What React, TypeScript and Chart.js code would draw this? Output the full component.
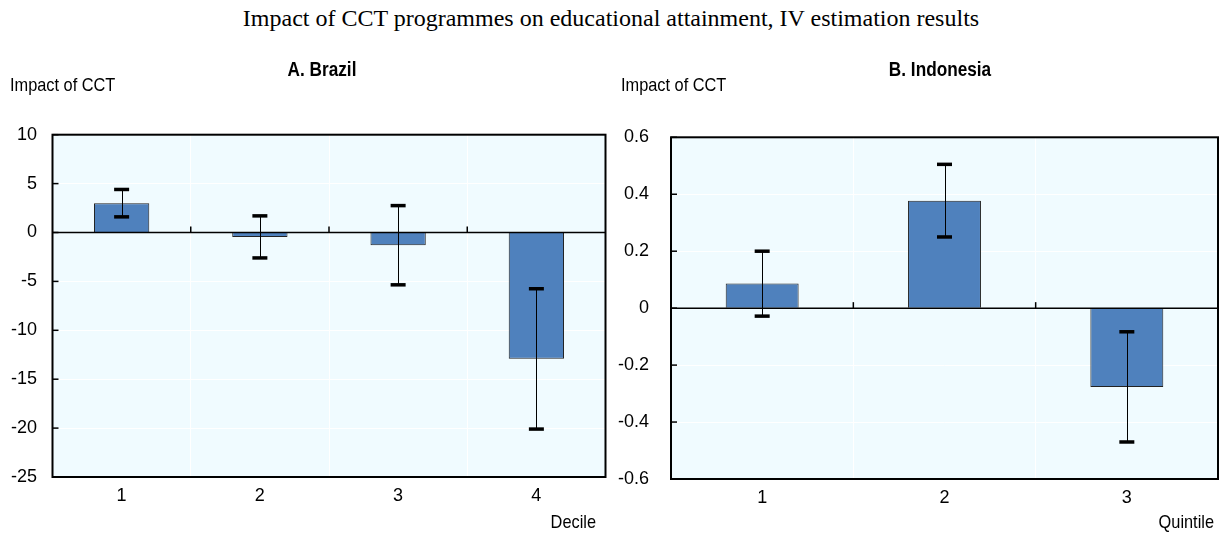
import React, { useEffect, useRef } from "react";
import { Chart, registerables } from "chart.js";

Chart.register(...registerables);

const pageTitle = "Impact of CCT programmes on educational attainment, IV estimation results";
const yLabel = "Impact of CCT";

const brazilTitle = "A. Brazil";
const brazilAxisLabel = "Decile";
const brazilCategories = ["1", "2", "3", "4"];
const brazilImpact = [3.0, -0.45, -1.3, -12.9];
const brazilLow = [1.6, -2.6, -5.35, -20.1];
const brazilHigh = [4.4, 1.7, 2.75, -5.75];

const indonesiaTitle = "B. Indonesia";
const indonesiaAxisLabel = "Quintile";
const indonesiaCategories = ["1", "2", "3"];
const indonesiaImpact = [0.087, 0.377, -0.277];
const indonesiaLow = [-0.028, 0.25, -0.47];
const indonesiaHigh = [0.2, 0.505, -0.083];

const FONT = "'Liberation Sans', Arial, sans-serif";
const BAR = "#4F81BD";
const PLOT_BG = "#F0FBFF";
const SQUEEZE = 0.86;

type Panel = {
  title: string;
  axisLabel: string;
  categories: string[];
  values: number[];
  low: number[];
  high: number[];
  min: number;
  max: number;
  step: number;
  yWidth: number;
  padTop: number;
  padRight: number;
  xHeight: number;
  titleX: number;
  yLabelX: number;
  axisLabelRight: number;
  decimals: number;
};

function squeezedText(ctx: any, text: string, x: number, y: number, align: string) {
  ctx.save();
  ctx.translate(x, y);
  ctx.scale(SQUEEZE, 1);
  ctx.textAlign = align;
  ctx.fillText(text, 0, 0);
  ctx.restore();
}

function makePlugin(p: Panel) {
  return {
    id: "panelDecor",
    beforeDraw(chart: any) {
      const { ctx, chartArea: a } = chart;
      ctx.save();
      ctx.fillStyle = PLOT_BG;
      ctx.fillRect(a.left, a.top, a.right - a.left, a.bottom - a.top);
      ctx.restore();
    },
    afterDatasetsDraw(chart: any) {
      const { ctx, chartArea: a } = chart;
      const xs = chart.scales.x;
      const ys = chart.scales.y;
      const y0 = ys.getPixelForValue(0);
      ctx.save();
      ctx.strokeStyle = "#000";
      ctx.lineWidth = 1.5;
      ctx.beginPath();
      ctx.moveTo(a.left, y0);
      ctx.lineTo(a.right, y0);
      ctx.stroke();
      for (let i = 1; i < p.categories.length; i++) {
        const bx = (xs.getPixelForValue(i - 1) + xs.getPixelForValue(i)) / 2;
        ctx.beginPath();
        ctx.moveTo(bx, y0);
        ctx.lineTo(bx, y0 - 6);
        ctx.stroke();
      }
      for (const t of ys.ticks) {
        const ty = ys.getPixelForValue(t.value);
        ctx.beginPath();
        ctx.moveTo(a.left, ty);
        ctx.lineTo(a.left + 6, ty);
        ctx.stroke();
      }
      for (let i = 0; i < p.values.length; i++) {
        const cx = xs.getPixelForValue(i);
        const yl = ys.getPixelForValue(p.low[i]);
        const yh = ys.getPixelForValue(p.high[i]);
        ctx.lineWidth = 1;
        ctx.beginPath();
        ctx.moveTo(Math.round(cx) + 0.5, yl);
        ctx.lineTo(Math.round(cx) + 0.5, yh);
        ctx.stroke();
        ctx.lineWidth = 3.5;
        for (const yy of [yl, yh]) {
          ctx.beginPath();
          ctx.moveTo(cx - 7.5, yy);
          ctx.lineTo(cx + 7.5, yy);
          ctx.stroke();
        }
      }
      ctx.lineWidth = 2;
      ctx.strokeRect(a.left, a.top, a.right - a.left, a.bottom - a.top);
      ctx.restore();
    },
    afterDraw(chart: any) {
      const { ctx } = chart;
      ctx.save();
      ctx.fillStyle = "#000";
      ctx.textBaseline = "middle";
      ctx.font = `bold 20px ${FONT}`;
      squeezedText(ctx, p.title, p.titleX, 70, "center");
      ctx.font = `19px ${FONT}`;
      squeezedText(ctx, yLabel, p.yLabelX, 86, "left");
      squeezedText(ctx, p.axisLabel, p.axisLabelRight, 523, "right");
      ctx.restore();
    },
  };
}

function PanelChart({ p, left, width }: { p: Panel; left: number; width: number }) {
  const ref = useRef<HTMLCanvasElement | null>(null);
  useEffect(() => {
    if (!ref.current) return;
    const chart = new Chart(ref.current, {
      type: "bar",
      data: {
        labels: p.categories,
        datasets: [
          {
            data: p.values,
            backgroundColor: BAR,
            borderColor: "#222",
            borderWidth: 1,
            barPercentage: 0.4,
            categoryPercentage: 1,
          },
        ],
      },
      options: {
        animation: false,
        responsive: true,
        maintainAspectRatio: false,
        layout: { padding: { top: p.padTop, right: p.padRight, left: 0, bottom: 0 } },
        plugins: { legend: { display: false }, title: { display: false }, tooltip: { enabled: false } },
        scales: {
          x: {
            grid: { color: "#FFFFFF", lineWidth: 1, offset: true, drawTicks: false },
            border: { display: false },
            ticks: { color: "#000", font: { family: FONT, size: 18 }, padding: 8 },
            afterFit: (s: any) => {
              s.height = p.xHeight;
            },
          },
          y: {
            min: p.min,
            max: p.max,
            grid: { color: "#FFFFFF", lineWidth: 1, drawTicks: false },
            border: { display: false },
            ticks: {
              stepSize: p.step,
              color: "#000",
              font: { family: FONT, size: 18 },
              padding: p.yWidth - 37,
              callback: (v: any) => {
                const n = Number(v);
                const r = Math.round(n * 10 ** p.decimals) / 10 ** p.decimals;
                return r === 0 ? "0" : String(r);
              },
            },
            afterFit: (s: any) => {
              s.width = p.yWidth;
            },
          },
        },
      },
      plugins: [makePlugin(p)],
    } as any);
    return () => chart.destroy();
  }, []);
  return (
    <div style={{ position: "absolute", left, top: 0, width, height: 534 }}>
      <canvas ref={ref} />
    </div>
  );
}

const brazil: Panel = {
  title: brazilTitle,
  axisLabel: brazilAxisLabel,
  categories: brazilCategories,
  values: brazilImpact,
  low: brazilLow,
  high: brazilHigh,
  min: -25,
  max: 10,
  step: 5,
  yWidth: 52.5,
  padTop: 134.7,
  padRight: 6.5,
  xHeight: 57,
  titleX: 322,
  yLabelX: 10,
  axisLabelRight: 596,
  decimals: 0,
};

const indonesia: Panel = {
  title: indonesiaTitle,
  axisLabel: indonesiaAxisLabel,
  categories: indonesiaCategories,
  values: indonesiaImpact,
  low: indonesiaLow,
  high: indonesiaHigh,
  min: -0.6,
  max: 0.6,
  step: 0.2,
  yWidth: 59,
  padTop: 137.3,
  padRight: 4,
  xHeight: 55,
  titleX: 328,
  yLabelX: 9,
  axisLabelRight: 602,
  decimals: 1,
};

export default function App() {
  return (
    <div style={{ position: "absolute", left: 0, top: 0, width: 1222, height: 534, background: "#fff" }}>
      <div
        style={{
          position: "absolute",
          left: 0,
          top: 3,
          width: 1222,
          textAlign: "center",
          fontFamily: "'Liberation Serif', 'Times New Roman', serif",
          fontSize: 24,
          lineHeight: "30px",
          color: "#000",
        }}
      >
        {pageTitle}
      </div>
      <PanelChart p={brazil} left={0} width={612} />
      <PanelChart p={indonesia} left={612} width={610} />
    </div>
  );
}
